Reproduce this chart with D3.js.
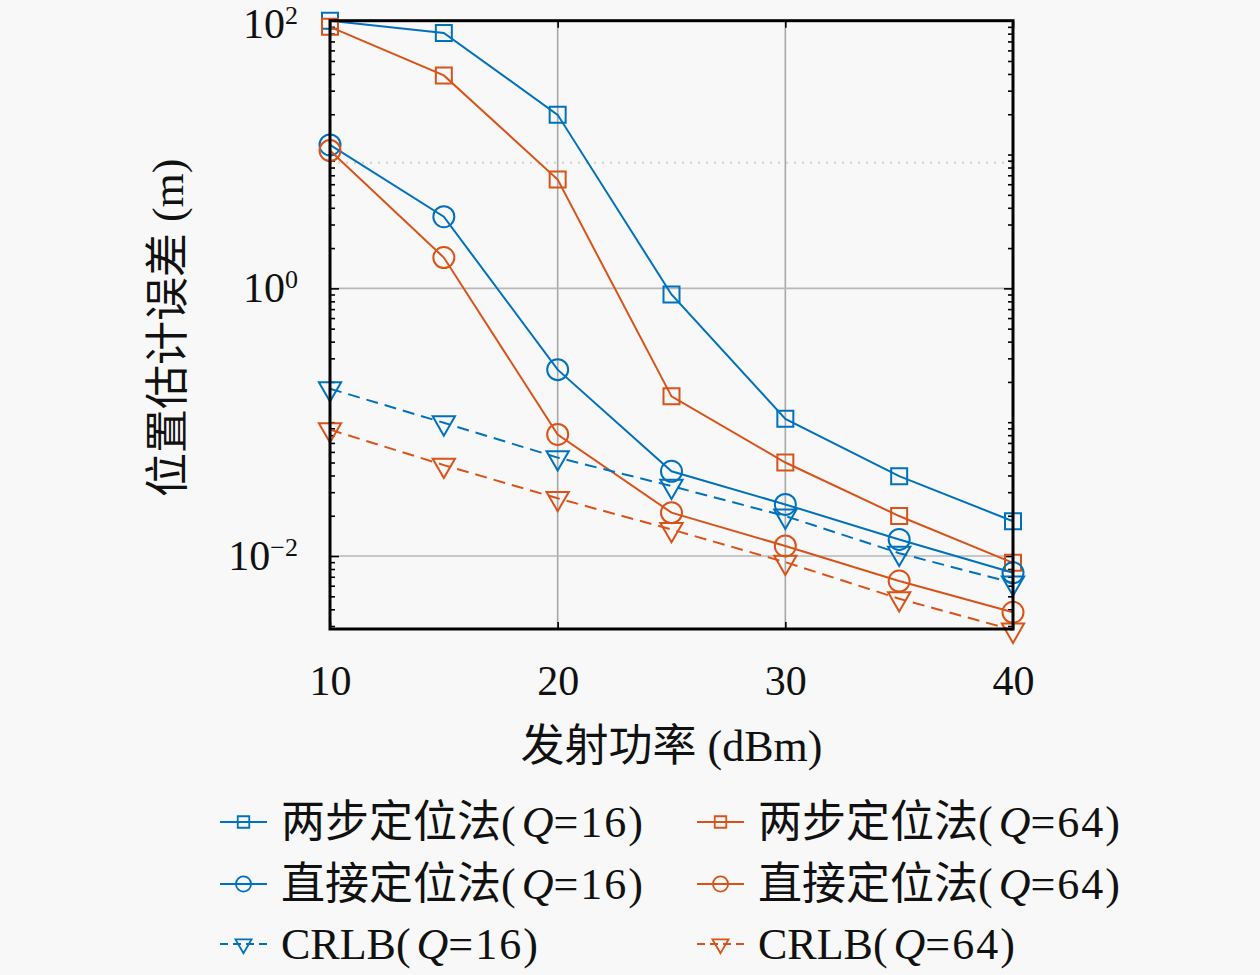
<!DOCTYPE html>
<html>
<head>
<meta charset="utf-8">
<script src="https://cdn.jsdelivr.net/npm/d3@7"></script>
<style>
  html, body { margin: 0; padding: 0; background: #f8f8f8; }
  svg { display: block; }
  text { font-family: "Liberation Serif", "Noto Sans CJK SC", serif; fill: #111; }
</style>
</head>
<body>
<svg id="chart" width="1260" height="975"></svg>
<script>
// ---------- data ----------
const power = [10, 15, 20, 25, 30, 35, 40];
const twoStepQ16 = [100, 81, 19.8, 0.90, 0.106, 0.0395, 0.0182];
const twoStepQ64 = [90, 39, 6.5, 0.156, 0.050, 0.0199, 0.0089];
const directQ16  = [11.8, 3.43, 0.247, 0.043, 0.0243, 0.0133, 0.0075];
const directQ64  = [10.7, 1.70, 0.081, 0.0211, 0.0119, 0.0065, 0.0038];
const crlbQ16    = [0.178, 0.099, 0.0544, 0.0333, 0.0199, 0.0105, 0.0063];
const crlbQ64    = [0.088, 0.0478, 0.027, 0.0158, 0.009, 0.0048, 0.0028];

const xTicks = [10, 20, 30, 40];
const yMajorTicks = [1e-2, 1e0, 1e2];
const yTickExponents = ["−2", "0", "2"];
const xGridValues = [20, 30];
const yGridValues = [1e-2, 1e0];
const yDottedGridValue = 8.7;

const seriesNames = ["两步定位法", "两步定位法", "直接定位法", "直接定位法", "CRLB", "CRLB"];
const seriesQ = ["16", "64", "16", "64", "16", "64"];

// ---------- layout ----------
const FONT = '"Liberation Serif", "Noto Sans CJK SC", serif';
const svg = d3.select("#chart");
const X0 = 330, X1 = 1013, Y0 = 629, Y1 = 20.7;
const x = d3.scaleLinear().domain([10, 40]).range([X0, X1]);
const y = d3.scaleLog().domain([0.00285, 100]).range([Y0, Y1]);

const blue = "#0072BD", orange = "#D95319";
const series = [
  { vals: twoStepQ16, color: blue,   marker: "square",   dash: null },
  { vals: twoStepQ64, color: orange, marker: "square",   dash: null },
  { vals: directQ16,  color: blue,   marker: "circle",   dash: null },
  { vals: directQ64,  color: orange, marker: "circle",   dash: null },
  { vals: crlbQ16,    color: blue,   marker: "triangle", dash: "12,7" },
  { vals: crlbQ64,    color: orange, marker: "triangle", dash: "12,7" },
];
series.forEach((s, i) => { s.name = seriesNames[i]; s.q = seriesQ[i]; });

// ---------- grid ----------
const grid = svg.append("g");
grid.selectAll("line.gx").data(xGridValues).join("line")
  .attr("x1", d => x(d)).attr("x2", d => x(d))
  .attr("y1", Y1).attr("y2", Y0)
  .attr("stroke", "#a8a8a8").attr("stroke-width", 1.6);
grid.selectAll("line.gy").data(yGridValues).join("line")
  .attr("x1", X0).attr("x2", X1)
  .attr("y1", d => y(d)).attr("y2", d => y(d))
  .attr("stroke", "#b8b8b8").attr("stroke-width", 1.6);
grid.append("line")
  .attr("x1", X0).attr("x2", X1)
  .attr("y1", y(yDottedGridValue)).attr("y2", y(yDottedGridValue))
  .attr("stroke", "#cfcfcf").attr("stroke-width", 2)
  .attr("stroke-dasharray", "2,6");

// ---------- axes ----------
const minorTicks = [];
for (let e = -3; e <= 1; e++) {
  for (let m = 1; m <= 9; m++) {
    const v = m * Math.pow(10, e);
    if (v >= 0.00285 && v <= 100 && !yMajorTicks.some(t => Math.abs(t - v) / t < 1e-9)) minorTicks.push(v);
  }
}

function styleAxis(g) {
  g.select(".domain").remove();
  g.attr("font-family", FONT);
  g.selectAll(".tick line").attr("stroke", "#000").attr("stroke-width", 1.6);
}

// left
const gl = svg.append("g").attr("transform", `translate(${X0},0)`)
  .call(d3.axisLeft(y).tickValues(yMajorTicks).tickSizeInner(-9).tickSizeOuter(0).tickFormat(() => ""));
styleAxis(gl);
gl.selectAll(".tick text").remove();
// labels drawn at svg level so the top one can be kept inside the picture
svg.append("g").selectAll("text").data(yMajorTicks).join("text")
  .attr("x", X0 - 32)
  .attr("y", d => Math.max(y(d) + 14, 38))
  .attr("text-anchor", "end")
  .style("font-family", FONT).style("font-size", "42px")
  .each(function(d, i) {
    const t = d3.select(this);
    t.append("tspan").text("10");
    t.append("tspan").attr("dy", -14).style("font-size", "26px").text(yTickExponents[i]);
  });
const glm = svg.append("g").attr("transform", `translate(${X0},0)`)
  .call(d3.axisLeft(y).tickValues(minorTicks).tickSizeInner(-5).tickSizeOuter(0).tickFormat(() => ""));
styleAxis(glm);

// right
const gr = svg.append("g").attr("transform", `translate(${X1},0)`)
  .call(d3.axisRight(y).tickValues(yMajorTicks).tickSizeInner(-9).tickSizeOuter(0).tickFormat(() => ""));
styleAxis(gr);
const grm = svg.append("g").attr("transform", `translate(${X1},0)`)
  .call(d3.axisRight(y).tickValues(minorTicks).tickSizeInner(-5).tickSizeOuter(0).tickFormat(() => ""));
styleAxis(grm);

// bottom
const gb = svg.append("g").attr("transform", `translate(0,${Y0})`)
  .call(d3.axisBottom(x).tickValues(xTicks).tickSizeInner(-7).tickSizeOuter(0).tickPadding(30).tickFormat(d3.format("d")));
styleAxis(gb);
gb.selectAll(".tick text").style("font-family", FONT).style("font-size", "42px").attr("fill", "#111").attr("dy", "0.85em");
// top
const gt = svg.append("g").attr("transform", `translate(0,${Y1})`)
  .call(d3.axisTop(x).tickValues(xTicks).tickSizeInner(-7).tickSizeOuter(0).tickFormat(() => ""));
styleAxis(gt);

// ---------- series ----------
const line = d3.line().x((d, i) => x(power[i])).y(d => y(d));
function markerPath(type, scale) {
  if (type === "square") return d3.symbol(d3.symbolSquare, 256 * scale * scale)();
  if (type === "circle") return d3.symbol(d3.symbolCircle, 346 * scale * scale)();
  return d3.symbol(d3.symbolTriangle, 215 * scale * scale)();
}
const plot = svg.append("g");
series.forEach(s => {
  plot.append("path").datum(s.vals)
    .attr("d", line).attr("fill", "none")
    .attr("stroke", s.color).attr("stroke-width", 2)
    .attr("stroke-dasharray", s.dash);
  plot.selectAll(null).data(s.vals).join("path")
    .attr("d", markerPath(s.marker, 1))
    .attr("transform", (d, i) => `translate(${x(power[i])},${y(d)})` + (s.marker === "triangle" ? " rotate(180)" : ""))
    .attr("fill", "none").attr("stroke", s.color).attr("stroke-width", 2);
});

// ---------- frame ----------
svg.append("rect").attr("x", X0).attr("y", Y1).attr("width", X1 - X0).attr("height", Y0 - Y1)
  .attr("fill", "none").attr("stroke", "#000").attr("stroke-width", 3);

// ---------- axis labels ----------
svg.append("text").attr("x", (X0 + X1) / 2).attr("y", 761)
  .attr("text-anchor", "middle").style("font-family", FONT).style("font-size", "44px")
  .text("发射功率 (dBm)");
svg.append("text")
  .attr("transform", `translate(183,${(Y0 + Y1) / 2 + 3}) rotate(-90)`)
  .attr("text-anchor", "middle").style("font-family", FONT).style("font-size", "44px")
  .text("位置估计误差 (m)");

// ---------- legend ----------
const legendCols = [220, 697];
const legendRows = [822, 884, 944];
const lg = svg.append("g");
series.forEach((s, i) => {
  const col = i % 2, row = Math.floor(i / 2);
  const lx = legendCols[col], ly = legendRows[row];
  const g = lg.append("g").attr("transform", `translate(${lx},${ly})`);
  g.append("line").attr("x1", 0).attr("x2", 47).attr("y1", 0).attr("y2", 0)
    .attr("stroke", s.color).attr("stroke-width", 1.8).attr("stroke-dasharray", s.dash ? "8,5" : null);
  g.append("path").attr("d", markerPath(s.marker, 0.72))
    .attr("transform", `translate(23.5,0)` + (s.marker === "triangle" ? " rotate(180)" : ""))
    .attr("fill", "none").attr("stroke", s.color).attr("stroke-width", 1.8);
  const t = g.append("text").attr("x", 61).attr("dy", "0.35em")
    .style("font-family", FONT).style("font-size", "44px");
  t.append("tspan").text(s.name);
  t.append("tspan").style("letter-spacing", "2px").text("(");
  t.append("tspan").attr("dx", 4).style("font-style", "italic").text("Q");
  t.append("tspan").style("letter-spacing", "2px").text("=" + s.q + ")");
});
</script>
</body>
</html>
